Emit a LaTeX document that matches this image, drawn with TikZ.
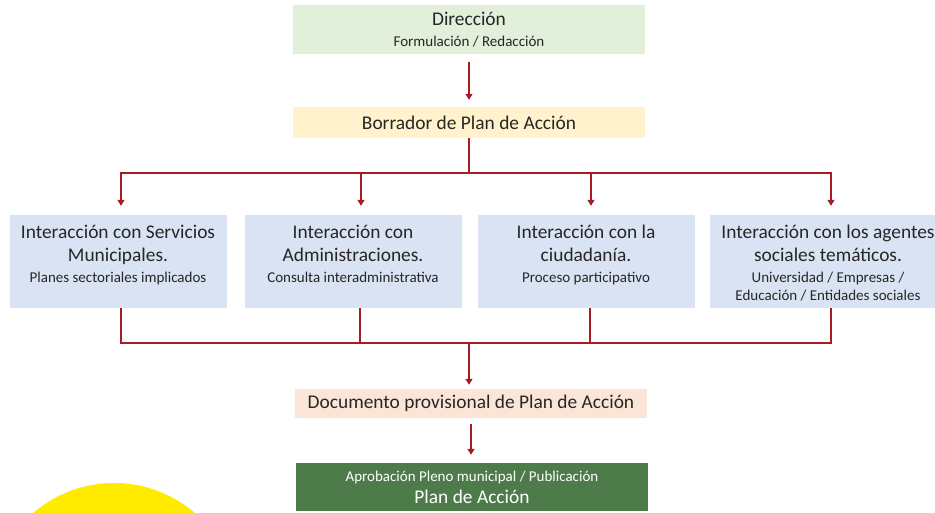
\documentclass[tikz,border=0pt]{standalone}
\usepackage{fontspec}
\setmainfont{Carlito}
\usetikzlibrary{arrows.meta}
\definecolor{rojo}{HTML}{A51C24}
\definecolor{verdeclaro}{HTML}{E2EFDA}
\definecolor{crema}{HTML}{FFF2CC}
\definecolor{azulclaro}{HTML}{DAE3F3}
\definecolor{rosaclaro}{HTML}{FBE5D6}
\definecolor{verdeoscuro}{HTML}{4E7B4A}
\definecolor{amarillo}{HTML}{FFEB00}
\newcommand{\grande}{\fontsize{19.4}{23}\selectfont}
\newcommand{\chico}{\fontsize{15}{18}\selectfont}
\begin{document}
\begin{tikzpicture}[x=1pt,y=-1pt,
  caja/.style={inner sep=0pt, align=center, text=black!85, font=\grande},
  bloque/.style={fill=azulclaro, minimum width=217pt, minimum height=93pt},
  texto/.style={caja, anchor=north, yshift=-10pt},
  linea/.style={draw=rojo, line width=1.9pt},
  punta/.style={linea, -{Triangle[width=7pt,length=6pt]}}]
\useasboundingbox (0,0) rectangle (935,513);
\begin{scope}
\clip (0,0) rectangle (935,513);
\fill[amarillo] (114,607) circle (124);
\end{scope}
\node[caja, fill=verdeclaro, minimum width=352pt, minimum height=49pt] (dir) at (469,29.5) {Dirección\\[-2pt] \chico Formulación / Redacción};
\node[caja, fill=crema, minimum width=352pt, minimum height=31pt] (bor) at (469,122.5) {Borrador de Plan de Acción};
\node[bloque] (b1) at (118,261.5) {};
\node[bloque] (b2) at (353,261.5) {};
\node[bloque] (b3) at (586,261.5) {};
\node[bloque, minimum width=236pt] (b4) at (828,261.5) {};
\node[texto] (t1) at (b1.north) {Interacción con Servicios\\ Municipales.\\[-2pt] \chico Planes sectoriales implicados};
\node[texto] (t2) at (b2.north) {Interacción con\\ Administraciones.\\[-2pt] \chico Consulta interadministrativa};
\node[texto] (t3) at (b3.north) {Interacción con la\\ ciudadanía.\\[-2pt] \chico Proceso participativo};
\node[texto] (t4) at (b4.north) {Interacción con los agentes\\ sociales temáticos.\\[-2pt] \chico Universidad / Empresas /\\[-5pt] \chico Educación / Entidades sociales};
\node[caja, fill=rosaclaro, minimum width=352pt, minimum height=29pt] (doc) at (471,403.5) {Documento provisional de Plan de Acción};
\node[caja, fill=verdeoscuro, text=white, minimum width=352pt, minimum height=48pt] (plan) at (472,487) {\chico Aprobación Pleno municipal / Publicación\\[-1pt] \grande Plan de Acción};
\coordinate (r0) at (469,173);
\coordinate (r1) at (121,173);
\coordinate (r2) at (361,173);
\coordinate (r3) at (591,173);
\coordinate (r4) at (831,173);
\coordinate (s0) at (469,343);
\coordinate (s1) at (121,343);
\coordinate (s2) at (360,343);
\coordinate (s3) at (590,343);
\coordinate (s4) at (831,343);
\draw[punta, shorten <=8pt, shorten >=7pt](dir.south) -- (bor.north);
\draw[linea](bor.south) -- (r0);
\draw[linea, line cap=rect](r1) -- (r4);
\draw[punta, shorten >=9pt](r1) -- (r1 |- b1.north);
\draw[punta, shorten >=9pt](r2) -- (r2 |- b2.north);
\draw[punta, shorten >=9pt](r3) -- (r3 |- b3.north);
\draw[punta, shorten >=9pt](r4) -- (r4 |- b4.north);
\draw[linea](s1 |- b1.south) -- (s1);
\draw[linea](s2 |- b2.south) -- (s2);
\draw[linea](s3 |- b3.south) -- (s3);
\draw[linea](s4 |- b4.south) -- (s4);
\draw[linea, line cap=rect](s1) -- (s4);
\draw[punta, shorten >=4pt](s0) -- (s0 |- doc.north);
\draw[punta, shorten <=6pt, shorten >=8pt](doc.south) -- (doc.south |- plan.north);

\end{tikzpicture}
\end{document}
